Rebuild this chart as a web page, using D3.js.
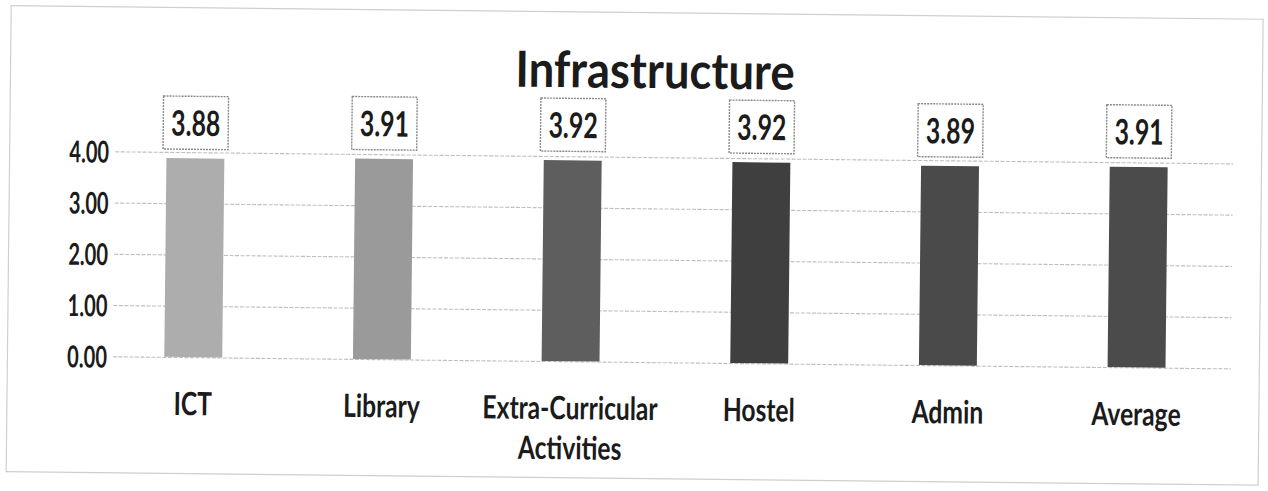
<!DOCTYPE html>
<html><head><meta charset="utf-8">
<script src="https://cdn.jsdelivr.net/npm/d3@7"></script>
<style>
html,body{margin:0;padding:0;background:#fff;}
svg{display:block;}
text{font-family:Lato,"Open Sans",sans-serif;font-weight:700;fill:#1b1b1b;}
</style>
</head><body>
<svg id="chart" width="1268" height="491"></svg>
<script>
// ---- data ----
const chartTitle = "Infrastructure";
const categories = ["ICT", "Library", "Extra-Curricular Activities", "Hostel", "Admin", "Average"];
const values = [3.88, 3.91, 3.92, 3.92, 3.89, 3.91];
const yTicks = [0, 1, 2, 3, 4];

// ---- styles ----
const barFills = ["#adadad", "#9a9a9a", "#5e5e5e", "#3f3f3f", "#4a4a4a", "#4b4b4b"];

const svg = d3.select("#chart");
const g = svg.append("g").attr("transform", "rotate(0.62,640,260)");

function condense(sel, f) {
  sel.each(function () {
    const L = this.getComputedTextLength();
    d3.select(this).attr("textLength", L * f).attr("lengthAdjust", "spacingAndGlyphs");
  });
}

// chart border
g.append("rect").attr("x", 8.5).attr("y", 12.5).attr("width", 1252).attr("height", 466)
  .attr("fill", "none").attr("stroke", "#cfcfcf").attr("stroke-width", 1.2);

const x = d3.scaleBand().domain(categories).range([100, 1232])
  .paddingInner(0.693).paddingOuter(0.3465).align(0.5);
const y = d3.scaleLinear().domain([0, 4]).range([362, 157]);

// gridlines + tick labels
const gridLeft = 114, gridRight = 1232;
const yAxis = d3.axisLeft(y).tickValues(yTicks).tickFormat(d3.format(".2f"))
  .tickSize(-(gridRight - gridLeft)).tickPadding(0);
const ya = g.append("g").attr("transform", `translate(${gridLeft},0)`).call(yAxis);
ya.select(".domain").remove();
ya.selectAll(".tick line").attr("stroke", "#bfbfbf").attr("stroke-width", 1.1).attr("stroke-dasharray", "4,1.5");
ya.selectAll(".tick text").attr("x", -6).attr("dy", null).attr("y", 11)
  .attr("text-anchor", "end").style("font-size", "30px").attr("fill", "#1b1b1b")
  .style("font-family", "Lato,'Open Sans',sans-serif").style("font-weight", 700);
condense(ya.selectAll(".tick text"), 0.67);

// bars
g.append("g").selectAll("rect").data(values).join("rect")
  .attr("x", (d, i) => x(categories[i]))
  .attr("width", x.bandwidth())
  .attr("y", d => y(d))
  .attr("height", d => y(0) - y(d))
  .attr("fill", (d, i) => barFills[i]);

// data labels
const boxW = 65, boxH = 53, gap = 9;
const lab = g.append("g").selectAll("g").data(values).join("g")
  .attr("transform", (d, i) => `translate(${x(categories[i]) + x.bandwidth() / 2},${y(d) - gap - boxH})`);
lab.append("rect").attr("x", -boxW / 2).attr("y", 0).attr("width", boxW).attr("height", boxH)
  .attr("fill", "#fff").attr("stroke", "#8a8a8a").attr("stroke-width", 1.4).attr("stroke-dasharray", "2,1");
const vt = lab.append("text").attr("text-anchor", "middle").attr("y", boxH / 2 + 13)
  .style("font-size", "35px").text(d => d3.format(".2f")(d));
condense(vt, 0.71);

// category labels
const cat = g.append("g").selectAll("text").data(categories).join("text")
  .attr("text-anchor", "middle")
  .attr("transform", d => `translate(${x(d) + x.bandwidth() / 2},420)`)
  .style("font-size", "32px");
cat.each(function (d) {
  const lines = d.length > 14 ? d.split(" ") : [d];
  const t = d3.select(this);
  lines.forEach((ln, j) => t.append("tspan").attr("x", 0).attr("y", j * 40).text(ln));
});
condense(cat.selectAll("tspan"), 0.77);

// title
const tt = g.append("text").attr("x", 653).attr("y", 88).attr("text-anchor", "middle")
  .style("font-size", "50px").text(chartTitle);
condense(tt, 0.91);
</script>
</body></html>
